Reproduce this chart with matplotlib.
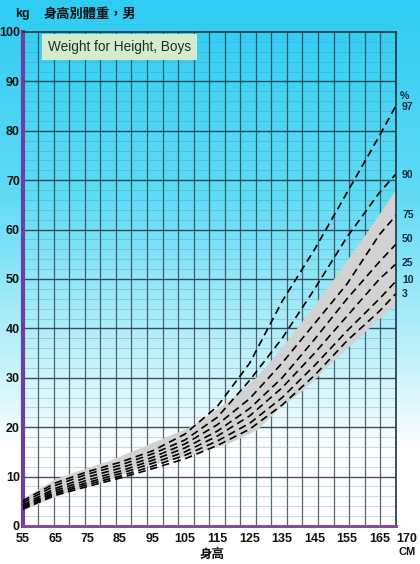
import numpy as np
import matplotlib
matplotlib.use("Agg")
from matplotlib import pyplot as plt
from matplotlib.colors import LinearSegmentedColormap
import matplotlib.transforms as mtransforms

plt.rcParams['font.family'] = ['Liberation Sans', 'Noto Sans CJK TC', 'DejaVu Sans']

# height (cm) grid for the percentile curves
heights = [55, 65, 75, 85, 95, 105, 115, 125, 135, 145, 155, 165, 170]
p97 = [5.1, 8.7, 11.0, 12.9, 15.2, 18.6, 24.2, 33.0, 45.5, 56.0, 67.5, 79.0, 85.0]
p90 = [4.7, 8.2, 10.5, 12.3, 14.6, 17.4, 22.0, 29.5, 38.0, 48.0, 58.5, 67.5, 71.2]
p75 = [4.3, 7.6, 9.9, 11.7, 13.9, 16.6, 20.5, 25.8, 33.0, 41.0, 49.0, 59.0, 62.8]
p50 = [4.0, 7.2, 9.3, 11.1, 13.3, 15.8, 19.2, 23.8, 30.0, 37.8, 46.0, 53.5, 57.0]
p25 = [3.8, 6.8, 8.8, 10.6, 12.7, 15.0, 18.2, 22.3, 28.0, 35.0, 42.5, 50.0, 53.0]
p10 = [3.6, 6.5, 8.4, 10.1, 12.1, 14.3, 17.2, 20.8, 26.0, 32.5, 39.5, 46.0, 49.5]
p3 = [3.4, 6.2, 8.0, 9.7, 11.6, 13.6, 16.3, 19.6, 24.5, 30.5, 37.5, 43.5, 47.0]
curves = [p97, p90, p75, p50, p25, p10, p3]
pct_labels = ['97', '90', '75', '50', '25', '10', '3']
pct_label_y = [84.8, 71.0, 62.9, 58.0, 53.3, 49.7, 46.9]

# shaded reference band
band_h = [55, 65, 82, 92, 106.6, 118.9, 127.2, 134.3, 141.5, 150.8, 161.6, 170]
band_top = [5.6, 9.6, 13.4, 16.1, 20.1, 25.6, 30.3, 35.7, 41.8, 50.0, 60.0, 68.2]
band_bot = [3.2, 6.0, 9.6, 12.0, 14.4, 16.9, 19.5, 24.0, 27.6, 33.5, 40.0, 45.0]

x_ticks = [55, 65, 75, 85, 95, 105, 115, 125, 135, 145, 155, 165, 170]
y_ticks = [0, 10, 20, 30, 40, 50, 60, 70, 80, 90, 100]

fig = plt.figure(figsize=(4.2, 5.64), dpi=100)

# gradient background over the whole figure
bg = fig.add_axes([0, 0, 1, 1], zorder=-10)
cmap = LinearSegmentedColormap.from_list('sky', [
    (0.0, (0.18, 0.80, 0.95)),
    (0.35, (0.38, 0.86, 0.96)),
    (0.62, (0.74, 0.94, 0.98)),
    (0.80, (1.0, 1.0, 1.0)),
    (1.0, (1.0, 1.0, 1.0))])
bg.imshow(np.linspace(0, 1, 300).reshape(-1, 1), aspect='auto', cmap=cmap,
          extent=[0, 1, 0, 1], origin='upper')
bg.axis('off')

ax = fig.add_axes([22.7 / 420, 1 - 526 / 564, 373 / 420, 494 / 564])
ax.patch.set_alpha(0)
ax.set_xlim(55, 170)
ax.set_ylim(0, 100)

# grid: 24 columns, horizontal minor every 2 kg
for xv in np.linspace(55, 170, 25)[1:-1]:
    ax.axvline(xv, color='#1d3440', lw=0.9, alpha=0.75, zorder=1)
for yv in range(2, 100, 2):
    if yv % 10:
        ax.axhline(yv, color='#4a8ea0', lw=0.5, alpha=0.45, zorder=1)
for yv in range(10, 100, 10):
    ax.axhline(yv, color='#1d3440', lw=1.0, alpha=0.85, zorder=1)

ax.fill_between(band_h, band_bot, band_top, color='#d2d2d2', lw=0, zorder=2)

for c in curves:
    ax.plot(heights, c, color='black', lw=1.2, dashes=(4.5, 2.8), zorder=3)

for spine in ['top', 'right']:
    ax.spines[spine].set_color('#1d3440')
    ax.spines[spine].set_linewidth(1.2)
ax.spines['left'].set_color('#6a3fa6')
ax.spines['left'].set_linewidth(3)
ax.spines['bottom'].set_color('#8a4a9c')
ax.spines['bottom'].set_linewidth(2.2)

ax.set_xticks(x_ticks)
ax.set_xticklabels([str(v) for v in x_ticks])
ax.set_yticks(y_ticks)
ax.set_yticklabels([str(v) for v in y_ticks])
ax.tick_params(length=0, labelsize=9, colors='#111111', pad=2)
ax.tick_params(axis='x', pad=5)
for lab in ax.get_xticklabels() + ax.get_yticklabels():
    lab.set_fontweight('bold')
# last label sits past the frame in the original
last = ax.get_xticklabels()[-1]
last.set_transform(last.get_transform() + mtransforms.ScaledTranslation(11 / 100, 0, fig.dpi_scale_trans))

# percentile labels on the right
ax.text(1.012, 87.0, '%', transform=ax.get_yaxis_transform(), fontsize=7.5,
        fontweight='bold', color='#1a2a40', va='center', clip_on=False)
for lab, yv in zip(pct_labels, pct_label_y):
    ax.text(1.017, yv, lab, transform=ax.get_yaxis_transform(), fontsize=7.5,
            fontweight='bold', color='#1a2a40', va='center', clip_on=False)

ax.text(25 / 373, 97.0, 'Weight for Height, Boys', transform=ax.get_yaxis_transform(),
        fontsize=9.8, color='#1e2e2e', va='center', ha='left', zorder=5,
        bbox=dict(boxstyle='square,pad=0.45', fc='#d4eccb', ec='none'))

fig.text(15 / 420, 1 - 14 / 564, 'kg', fontsize=9, fontweight='bold', color='#111111', va='center')
fig.text(44 / 420, 1 - 14 / 564, '身高別體重，男', fontsize=9.5, fontweight='bold',
         color='#111111', va='center', family=['Noto Sans CJK TC', 'DejaVu Sans'])
fig.text(212 / 420, 1 - 554 / 564, '身高', fontsize=9, fontweight='bold', color='#111111',
         va='center', ha='center', family=['Noto Sans CJK TC', 'DejaVu Sans'])
fig.text(407 / 420, 1 - 552 / 564, 'CM', fontsize=8, fontweight='bold', color='#111111',
         va='center', ha='center')

fig.savefig('out.png', dpi=100)
